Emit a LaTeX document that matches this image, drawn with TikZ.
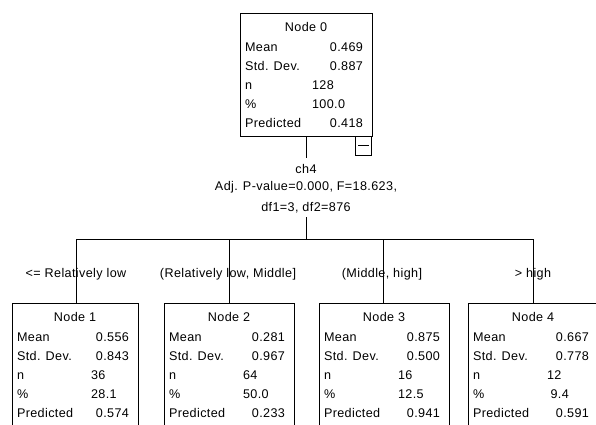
\documentclass[tikz,border=0pt]{standalone}
\usepackage{fontspec}
\setmainfont{Liberation Sans}[LetterSpace=3]
\usetikzlibrary{calc}
\tikzset{
  txt/.style={inner sep=0pt, outer sep=0pt, text height=9pt, text depth=0pt, font=\fontsize{12.6}{14}\selectfont},
  statbox/.style={draw, line width=1pt, inner sep=0pt, outer sep=0pt, minimum height=123pt},
  conn/.style={line width=1pt},
}
\newcommand\rowsat[7]{%
  \node[txt,anchor=west] (#1-a) at ($(#1.north west)+(5,34)$) {Mean};
  \node[txt,anchor=west] (#1-b) at ($(#1.north west)+(5,53)$) {Std. Dev.};
  \node[txt,anchor=west] (#1-c) at ($(#1.north west)+(5,72)$) {n};
  \node[txt,anchor=west] (#1-d) at ($(#1.north west)+(5,91)$) {\%};
  \node[txt,anchor=west] (#1-e) at ($(#1.north west)+(5,110)$) {Predicted};
  \node[txt,anchor=east] (#1-va) at ($(#1.north east)+(-9,34)$) {#3};
  \node[txt,anchor=east] (#1-vb) at ($(#1.north east)+(-9,53)$) {#4};
  \node[txt,anchor=west] (#1-vc) at ($(#1.north west)+(#2,72)$) {#5};
  \node[txt,anchor=west] (#1-vd) at ($(#1.north west)+(#2,91)$) {#6};
  \node[txt,anchor=east] (#1-ve) at ($(#1.north east)+(-9,110)$) {#7};
}
\begin{document}
\begin{tikzpicture}[x=1pt,y=-1pt]
\useasboundingbox (0,0) rectangle (596,424);
\clip (0,0) rectangle (596,424);
\fill[white] (0,0) rectangle (596,424);

% root node
\node[statbox, minimum width=132pt] (n0) at (306,74.5) {};
\node[txt] (n0-t) at ($(n0.north)+(0,14)$) {Node 0};
\rowsat{n0}{72}{0.469}{0.887}{128}{100.0}{0.418}
\node[draw, line width=1pt, minimum width=16pt, minimum height=19pt, inner sep=0pt, anchor=north east] (btn) at (n0.south east) {};
\draw[conn] ($(btn.center)+(-5.5,-1)$) -- ($(btn.center)+(5.5,-1)$);

% split info
\coordinate (s0) at (306,158);
\coordinate (s1) at (306,217);
\node[txt] (sp1) at (306,169) {ch4};
\node[txt] (sp2) at (306,186) {Adj. P-value=0.000, F=18.623,};
\node[txt] (sp3) at (306,207) {df1=3, df2=876};
\draw[conn] (n0.south) -- (s0);

% bar
\coordinate (bar) at (306,239);
\coordinate (b1) at (76,239);
\coordinate (b2) at (229,239);
\coordinate (b3) at (383,239);
\coordinate (b4) at (533,239);
\draw[conn] (s1) -- (bar);
\draw[conn] (b1) -- (b4);

% children
\node[statbox, minimum width=126pt] (n1) at (75,364.5) {};
\node[statbox, minimum width=130pt] (n2) at (229,364.5) {};
\node[statbox, minimum width=130pt] (n3) at (384,364.5) {};
\node[statbox, minimum width=130pt] (n4) at (533,364.5) {};

\draw[conn] (b1) -- (b1 |- n1.north);
\draw[conn] (b2) -- (b2 |- n2.north);
\draw[conn] (b3) -- (b3 |- n3.north);
\draw[conn] (b4) -- (b4 |- n4.north);

\node[txt] (l1) at (76,273) {<= Relatively low};
\node[txt] (l2) at (228,273) {(Relatively low, Middle]};
\node[txt] (l3) at (382,273) {(Middle, high]};
\node[txt] (l4) at (533,273) {> high};

\node[txt] (n1-t) at ($(n1.north)+(0,14)$) {Node 1};
\rowsat{n1}{79}{0.556}{0.843}{36}{28.1}{0.574}
\node[txt] (n2-t) at ($(n2.north)+(0,14)$) {Node 2};
\rowsat{n2}{79}{0.281}{0.967}{64}{50.0}{0.233}
\node[txt] (n3-t) at ($(n3.north)+(0,14)$) {Node 3};
\rowsat{n3}{79}{0.875}{0.500}{16}{12.5}{0.941}
\node[txt] (n4-t) at ($(n4.north)+(0,14)$) {Node 4};
\rowsat{n4}{79}{0.667}{0.778}{12}{\hspace{3.5pt}9.4}{0.591}
\end{tikzpicture}
\end{document}
